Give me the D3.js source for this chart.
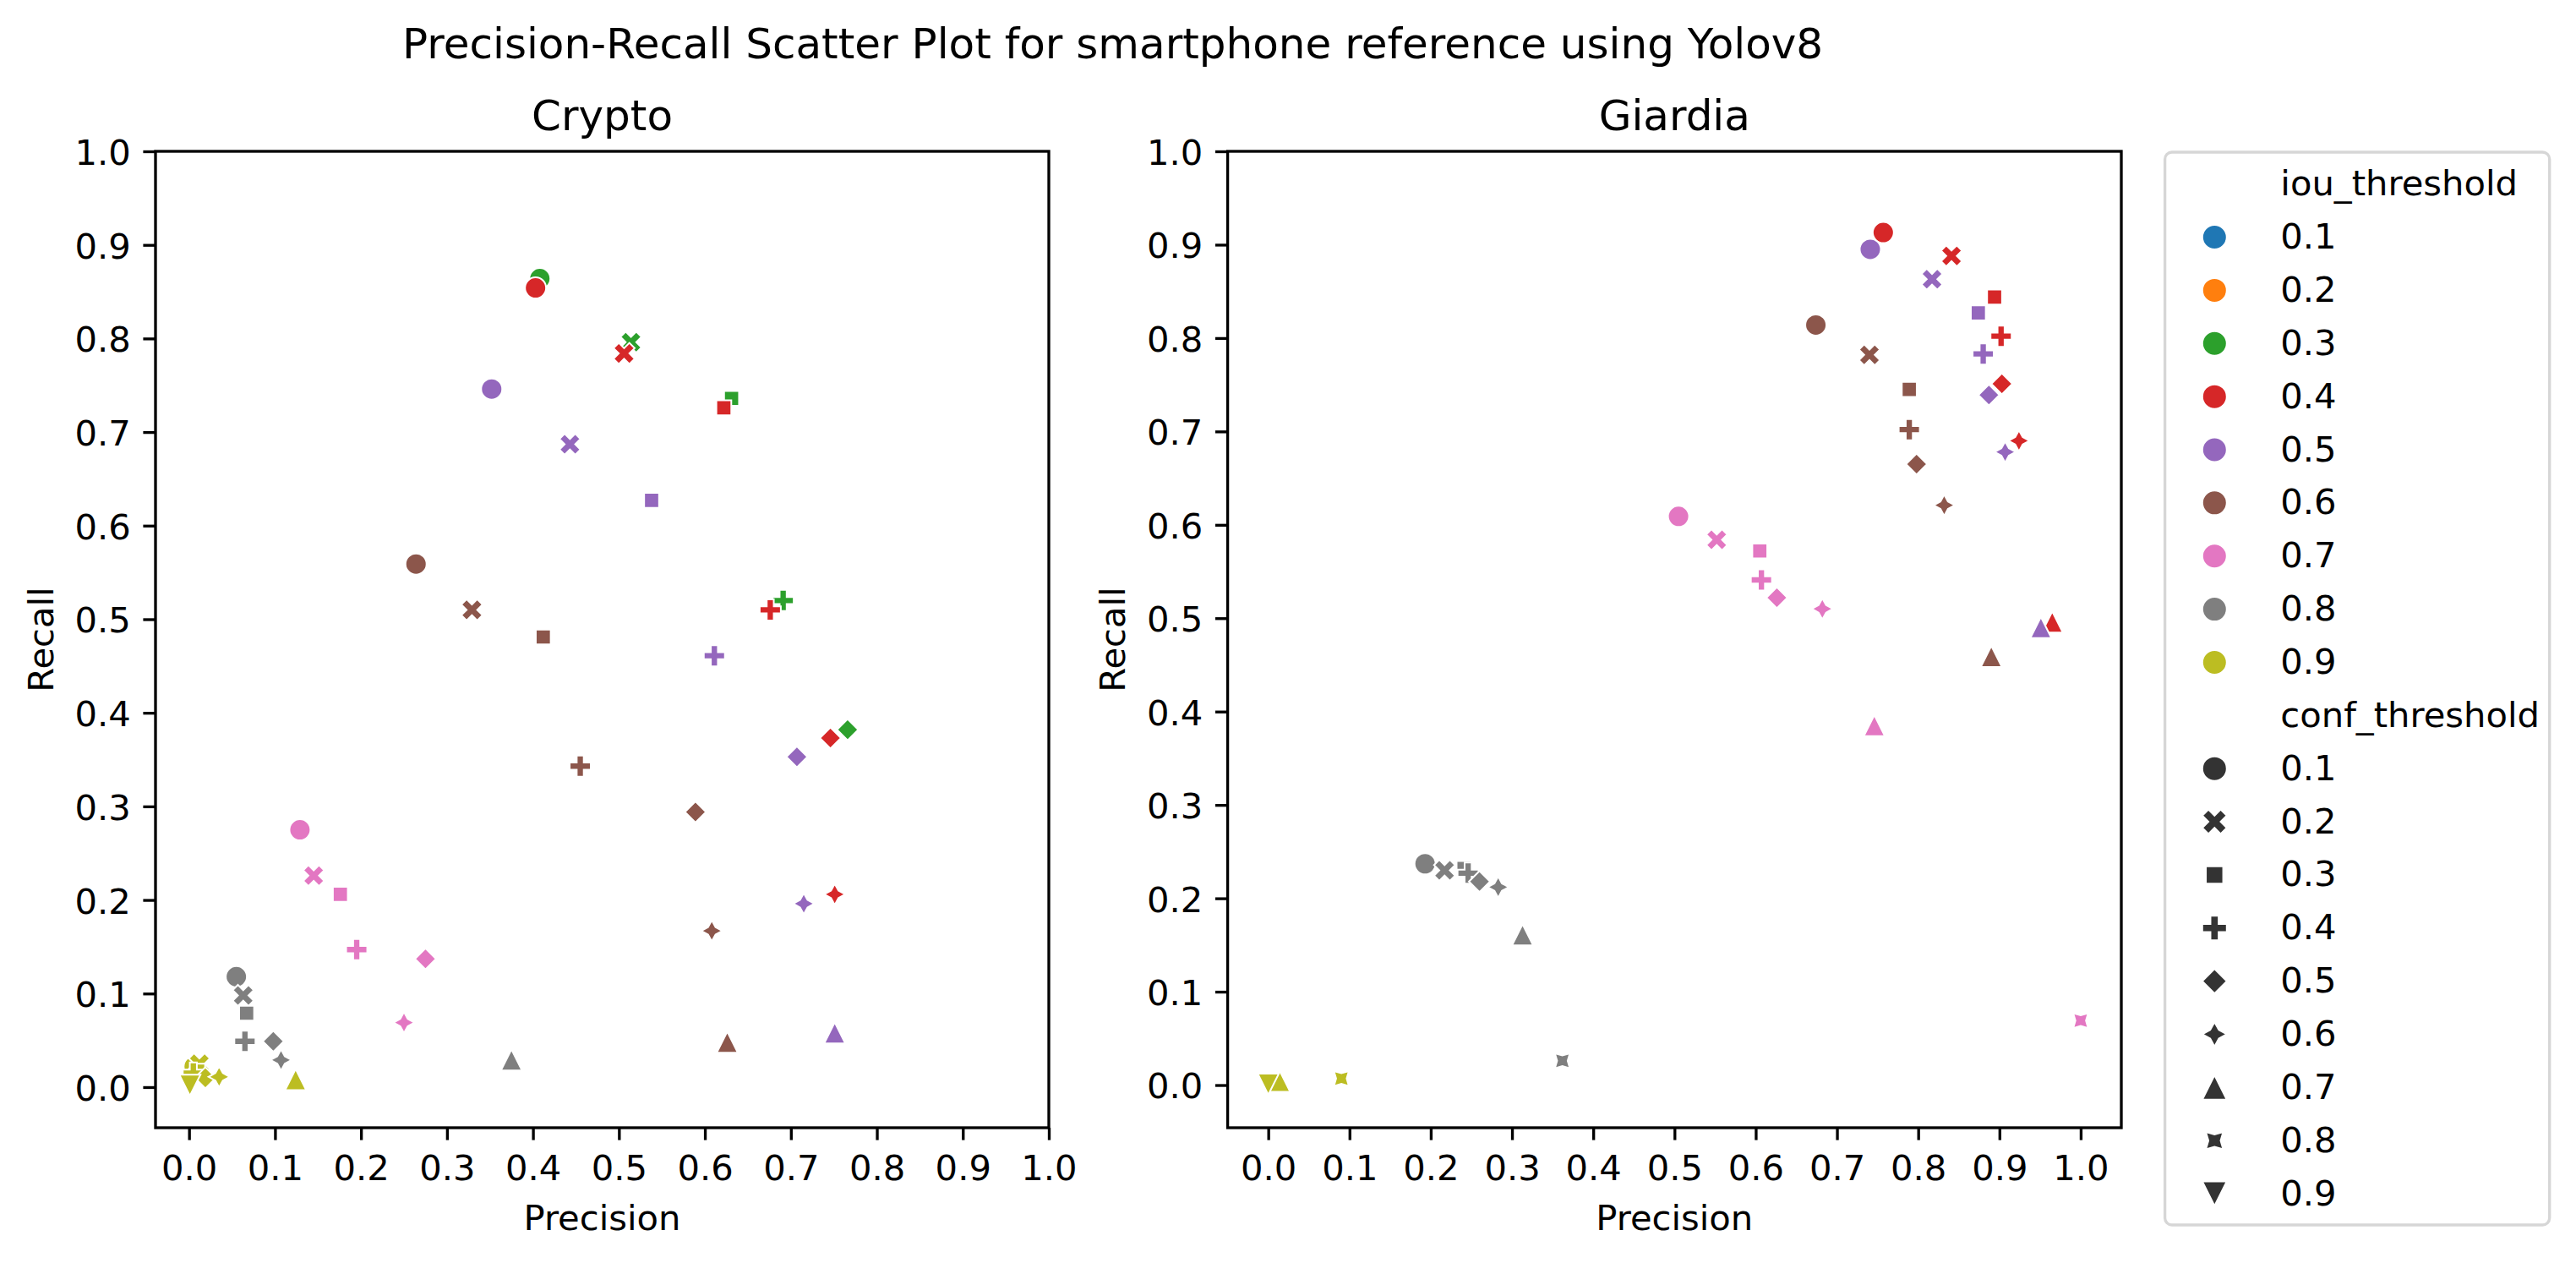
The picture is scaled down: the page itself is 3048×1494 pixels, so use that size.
<!DOCTYPE html>
<html><head><meta charset="utf-8">
<script src="https://cdn.jsdelivr.net/npm/d3@7"></script>
<style>
body{margin:0;background:#fff}
svg{display:block}
text{font-family:"DejaVu Sans",sans-serif;fill:#000}
</style>
</head><body>
<svg id="chart" width="3048" height="1494"></svg>
<script>
// ---------------- data ----------------
const iouLevels = ["0.1","0.2","0.3","0.4","0.5","0.6","0.7","0.8","0.9"];
const confLevels = ["0.1","0.2","0.3","0.4","0.5","0.6","0.7","0.8","0.9"];
const palette = ["#1f77b4","#ff7f0e","#2ca02c","#d62728","#9467bd","#8c564b","#e377c2","#7f7f7f","#bcbd22"];
const tickValues = [0,0.1,0.2,0.3,0.4,0.5,0.6,0.7,0.8,0.9,1.0];
const tickLabels = ["0.0","0.1","0.2","0.3","0.4","0.5","0.6","0.7","0.8","0.9","1.0"];

// Crypto
const cryptoIou = [0.3,0.3,0.3,0.3,0.3,
  0.4,0.4,0.4,0.4,0.4,0.4,
  0.5,0.5,0.5,0.5,0.5,0.5,0.5,
  0.6,0.6,0.6,0.6,0.6,0.6,0.6,
  0.7,0.7,0.7,0.7,0.7,0.7,
  0.8,0.8,0.8,0.8,0.8,0.8,0.8,
  0.9,0.9,0.9,0.9,0.9,0.9,0.9,0.9];
const cryptoConf = [0.1,0.2,0.3,0.4,0.5,
  0.1,0.2,0.3,0.4,0.5,0.6,
  0.1,0.2,0.3,0.4,0.5,0.6,0.7,
  0.1,0.2,0.3,0.4,0.5,0.6,0.7,
  0.1,0.2,0.3,0.4,0.5,0.6,
  0.1,0.2,0.3,0.4,0.5,0.6,0.7,
  0.1,0.2,0.3,0.4,0.5,0.6,0.7,0.9];
const cryptoPrecision = [0.408,0.514,0.631,0.691,0.766,
  0.403,0.506,0.622,0.676,0.746,0.751,
  0.352,0.443,0.538,0.611,0.707,0.715,0.751,
  0.264,0.329,0.412,0.455,0.589,0.608,0.626,
  0.129,0.145,0.176,0.195,0.275,0.250,
  0.055,0.063,0.067,0.065,0.098,0.107,0.375,
  0.006,0.012,0.010,0.005,0.019,0.035,0.124,0.001];
const cryptoRecall = [0.864,0.796,0.736,0.520,0.382,
  0.854,0.784,0.726,0.510,0.373,0.206,
  0.746,0.687,0.627,0.461,0.353,0.196,0.058,
  0.559,0.510,0.481,0.343,0.294,0.167,0.048,
  0.275,0.226,0.206,0.147,0.137,0.069,
  0.118,0.098,0.079,0.049,0.049,0.029,0.029,
  0.022,0.025,0.017,0.015,0.010,0.011,0.008,0.002];

// Giardia
const giardiaIou = [0.4,0.4,0.4,0.4,0.4,0.4,0.4,
  0.5,0.5,0.5,0.5,0.5,0.5,0.5,
  0.6,0.6,0.6,0.6,0.6,0.6,0.6,
  0.7,0.7,0.7,0.7,0.7,0.7,0.7,0.7,
  0.8,0.8,0.8,0.8,0.8,0.8,0.8,0.8,
  0.9,0.9,0.9];
const giardiaConf = [0.1,0.2,0.3,0.4,0.5,0.6,0.7,
  0.1,0.2,0.3,0.4,0.5,0.6,0.7,
  0.1,0.2,0.3,0.4,0.5,0.6,0.7,
  0.1,0.2,0.3,0.4,0.5,0.6,0.7,0.8,
  0.1,0.2,0.3,0.4,0.5,0.6,0.7,0.8,
  0.7,0.8,0.9];
const giardiaPrecision = [0.757,0.841,0.894,0.902,0.903,0.924,0.965,
  0.741,0.817,0.874,0.880,0.887,0.907,0.951,
  0.674,0.740,0.789,0.789,0.798,0.832,0.890,
  0.505,0.552,0.605,0.607,0.626,0.682,0.746,1.000,
  0.193,0.217,0.241,0.246,0.260,0.283,0.313,0.362,
  0.014,0.090,0.000];
const giardiaRecall = [0.913,0.888,0.844,0.802,0.751,0.690,0.496,
  0.895,0.863,0.827,0.783,0.739,0.678,0.490,
  0.814,0.782,0.745,0.702,0.665,0.621,0.459,
  0.609,0.584,0.572,0.541,0.522,0.510,0.385,0.069,
  0.237,0.230,0.232,0.227,0.218,0.212,0.161,0.026,
  0.004,0.007,0.001];

// ---------------- layout ----------------
const W = 3048, H = 1494;
const FS = 41.7;           // 10pt @300dpi
const TFS = 50;            // 12pt @300dpi
const LW = 3.33;           // 0.8pt
const TICK = 14.6;         // 3.5pt
const MS = 25;             // marker size 6pt
const LMS = 29;            // legend marker size

const axTop = 179, axBottom = 1334;
const panels = [
  {title:"Crypto", left:184, right:1241, xDomain:[-0.039,1.0], yDomain:[-0.0434,1.0],
   iou:cryptoIou, conf:cryptoConf, p:cryptoPrecision, r:cryptoRecall},
  {title:"Giardia", left:1452.6, right:2510, xDomain:[-0.05,1.05], yDomain:[-0.0457,1.0],
   iou:giardiaIou, conf:giardiaConf, p:giardiaPrecision, r:giardiaRecall}
];

const svg = d3.select("#chart");
svg.append("rect").attr("width",W).attr("height",H).attr("fill","#fff");

function poly(pts){ return "M" + pts.map(p => p[0].toFixed(3)+","+p[1].toFixed(3)).join("L") + "Z"; }
function markerPath(k, S){
  const h = S/2;
  const reg = (n, r, rot) => d3.range(n).map(i => {
    const a = (2*Math.PI/n)*i + Math.PI/2 + rot*Math.PI/180;
    return [r*Math.cos(a), -r*Math.sin(a)];
  });
  const star = rot => d3.range(8).map(i => {
    const a = (Math.PI/4)*i + Math.PI/2 + rot*Math.PI/180;
    const r = (i%2) ? h*0.5 : h;
    return [r*Math.cos(a), -r*Math.sin(a)];
  });
  switch(k){
    case 0: return `M${h},0A${h},${h} 0 1,1 ${-h},0A${h},${h} 0 1,1 ${h},0Z`;
    case 1: return poly([[-1,-2],[0,-1],[1,-2],[2,-1],[1,0],[2,1],[1,2],[0,1],[-1,2],[-2,1],[-1,0],[-2,-1]].map(p=>[p[0]*S/4,p[1]*S/4]));
    case 2: return poly(reg(4,h,45));
    case 3: return poly([[-1,-3],[1,-3],[1,-1],[3,-1],[3,1],[1,1],[1,3],[-1,3],[-1,1],[-3,1],[-3,-1],[-1,-1]].map(p=>[p[0]*S/6,p[1]*S/6]));
    case 4: return poly(reg(4,h,0));
    case 5: return poly(star(0));
    case 6: return poly([[0,-h],[-h,h],[h,h]]);
    case 7: return poly(star(45));
    case 8: return poly([[0,h],[-h,-h],[h,-h]]);
  }
}
const levelIndex = v => Math.round(v*10) - 1;

// suptitle
svg.append("text").attr("x",1316.6).attr("y",68.5).attr("text-anchor","middle")
  .attr("font-size",TFS).text("Precision-Recall Scatter Plot for smartphone reference using Yolov8");

panels.forEach((pn, pi) => {
  const x = d3.scaleLinear().domain(pn.xDomain).range([pn.left, pn.right]);
  const y = d3.scaleLinear().domain(pn.yDomain).range([axBottom, axTop]);
  const g = svg.append("g");

  const clipId = "clip"+pi;
  svg.append("clipPath").attr("id",clipId).append("rect")
    .attr("x",pn.left).attr("y",axTop).attr("width",pn.right-pn.left).attr("height",axBottom-axTop);

  const pts = pn.p.map((v,i) => ({p:v, r:pn.r[i], iou:pn.iou[i], conf:pn.conf[i]}));
  g.append("g").attr("clip-path",`url(#${clipId})`)
    .selectAll("path").data(pts).join("path")
    .attr("d", d => markerPath(levelIndex(d.conf), MS))
    .attr("transform", d => `translate(${x(d.p)},${y(d.r)})`)
    .attr("fill", d => palette[levelIndex(d.iou)])
    .attr("stroke","#fff").attr("stroke-width",2);

  // axes
  const xa = g.append("g").attr("transform",`translate(0,${axBottom})`)
    .call(d3.axisBottom(x).tickValues(tickValues).tickFormat((d,i)=>tickLabels[i]).tickSize(TICK).tickPadding(TICK));
  const ya = g.append("g").attr("transform",`translate(${pn.left},0)`)
    .call(d3.axisLeft(y).tickValues(tickValues).tickFormat((d,i)=>tickLabels[i]).tickSize(TICK).tickPadding(TICK));
  [xa, ya].forEach(a => {
    a.select(".domain").remove();
    a.selectAll(".tick line").attr("stroke","#000").attr("stroke-width",LW);
    a.selectAll(".tick text").attr("font-size",FS).attr("font-family","DejaVu Sans").attr("fill","#000");
  });
  xa.selectAll(".tick text").attr("y",TICK*2).attr("dy","0.78em");
  ya.selectAll(".tick text").attr("x",-TICK*2).attr("dy","0.37em");

  // frame
  g.append("rect").attr("x",pn.left).attr("y",axTop).attr("width",pn.right-pn.left).attr("height",axBottom-axTop)
    .attr("fill","none").attr("stroke","#000").attr("stroke-width",LW);

  // titles and labels
  const cx = (pn.left+pn.right)/2;
  g.append("text").attr("x",cx).attr("y",154).attr("text-anchor","middle").attr("font-size",TFS).text(pn.title);
  g.append("text").attr("x",cx).attr("y",1455).attr("text-anchor","middle").attr("font-size",FS).text("Precision");
  const ylx = pn.left - 121.5, yly = (axTop+axBottom)/2;
  g.append("text").attr("transform",`translate(${ylx},${yly}) rotate(-90)`).attr("text-anchor","middle")
    .attr("font-size",FS).text("Recall");
});

// legend
const lg = svg.append("g");
lg.append("rect").attr("x",2561.6).attr("y",180).attr("width",3016.7-2561.6).attr("height",1449-180)
  .attr("rx",8.3).attr("ry",8.3).attr("fill","#fff").attr("fill-opacity",0.8)
  .attr("stroke","#cccccc").attr("stroke-opacity",0.8).attr("stroke-width",LW);
const rows = [{label:"iou_threshold"}]
  .concat(iouLevels.map((l,i)=>({label:l, marker:0, color:palette[i]})))
  .concat([{label:"conf_threshold"}])
  .concat(confLevels.map((l,i)=>({label:l, marker:i, color:"#333333"})));
rows.forEach((row, i) => {
  const cy = 215.7 + 62.86*i;
  if (row.marker !== undefined) {
    lg.append("path").attr("d", markerPath(row.marker, LMS))
      .attr("transform",`translate(2620.3,${cy+2})`)
      .attr("fill",row.color).attr("stroke","#fff").attr("stroke-width",2);
  }
  lg.append("text").attr("x",2698.3).attr("y",cy+15.5).attr("font-size",FS).text(row.label);
});
</script>
</body></html>
